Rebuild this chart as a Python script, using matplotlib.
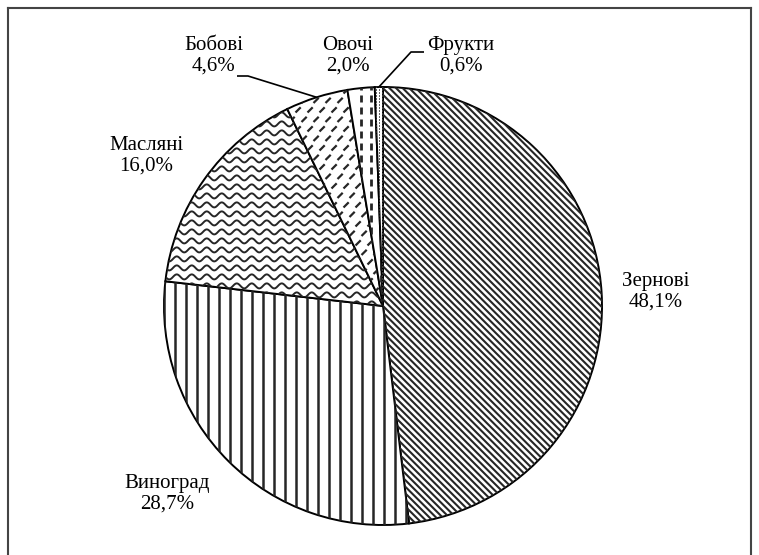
"""
Pie chart of crop structure with hand drawn hatch fills
"""
import numpy as np
import matplotlib
matplotlib.use('Agg')
import matplotlib.pyplot as plt
from matplotlib.collections import LineCollection
from matplotlib.lines import Line2D

labels = ['Зернові', 'Виноград', 'Масляні', 'Бобові', 'Овочі', 'Фрукти']
shares = [48.1, 28.7, 16.0, 4.6, 2.0, 0.6]
share_text = ['48,1%', '28,7%', '16,0%', '4,6%', '2,0%', '0,6%']

W, H = 759, 555
CX, CY, R = 383, 306, 219   # pie centre and radius in pixels

plt.rcParams['font.family'] = ['Liberation Serif', 'DejaVu Serif']

fig = plt.figure(figsize=(W / 100, H / 100), dpi=100)
ax = fig.add_axes([0, 0, 1, 1])


def px(x, y):
    """pixel position -> data position"""
    return (x - CX) / R, (CY - y) / R


wedges, _ = ax.pie(shares, startangle=90, counterclock=False, radius=1,
                   colors=['white'] * len(shares),
                   wedgeprops=dict(edgecolor='black', linewidth=1.4))
for w in wedges:
    w.set_zorder(1)

# pie() resets the view, so fix the limits afterwards
ax.set_aspect('auto')
ax.set_xlim(-CX / R, (W - CX) / R)
ax.set_ylim(-(H - CY) / R, CY / R)
ax.axis('off')

u = 1.0 / R  # one pixel in data units
ink = '#262626'


def add_lines(segs, wedge, lw, color=ink):
    lc = LineCollection(segs, colors=color, linewidths=lw, zorder=2)
    ax.add_collection(lc)
    lc.set_clip_path(wedge)


# Зернові: dense back-diagonal lines
segs = []
for c in np.arange(-2.2, 2.2, 6.6 * u):
    segs.append([(-1.1, c + 1.1), (1.1, c - 1.1)])
add_lines(segs, wedges[0], 1.5)

# Виноград: vertical lines
segs = [[(x, -1.1), (x, 1.1)] for x in np.arange(-1.1, 1.1, 11 * u)]
add_lines(segs, wedges[1], 1.8)

# Масляні: wavy lines
xs = np.linspace(-1.1, 1.1, 800)
segs = []
for y0 in np.arange(-1.1, 1.1, 9 * u):
    ys = y0 + 2.5 * u * np.sin(2 * np.pi * xs / (15 * u))
    segs.append(np.column_stack([xs, ys]))
add_lines(segs, wedges[2], 1.4)

# Бобові: short rising dashes
segs = []
d = 2.6 * u
for i, y0 in enumerate(np.arange(-1.1, 1.1, 9.5 * u)):
    off = (i % 2) * 6 * u
    for x0 in np.arange(-1.1, 1.1, 12 * u):
        segs.append([(x0 + off - d, y0 - d), (x0 + off + d, y0 + d)])
add_lines(segs, wedges[3], 1.6)

# Овочі: vertical dashed lines
segs = []
for x0 in np.arange(-0.1, 0.02, 10 * u):
    for y0 in np.arange(0.0, 1.1, 12 * u):
        segs.append([(x0, y0), (x0, y0 + 7 * u)])
add_lines(segs, wedges[4], 2.0)

# Фрукти: fine dots
segs = []
for x0 in np.arange(-0.06, 0.01, 3 * u):
    for y0 in np.arange(0.0, 1.1, 3 * u):
        segs.append([(x0, y0), (x0 + 1.2 * u, y0)])
add_lines(segs, wedges[5], 1.2, '#444444')

# labels (pixel positions of text centres)
label_pos = [(656, 292), (167, 494), (146, 156), (214, 56), (348, 56), (461, 56)]
for name, txt, (x, y) in zip(labels, share_text, label_pos):
    ax.text(*px(x, y), f'{name}\n{txt}', ha='center', va='center',
            fontsize=15, linespacing=1.1, zorder=3)


# leader lines for the small slices
def leader(points):
    pts = [px(*p) for p in points]
    ax.plot([p[0] for p in pts], [p[1] for p in pts], color='black',
            linewidth=1.2, zorder=3, solid_capstyle='butt')


def edge_point(k):
    mid = 90 - 3.6 * (sum(shares[:k]) + shares[k] / 2)
    a = np.radians(mid)
    return CX + R * np.cos(a), CY - R * np.sin(a)


leader([(237, 76), (248, 76), edge_point(3)])
leader([(424, 52), (411, 52), edge_point(5)])

# outer frame
fx = lambda x: x / W
fy = lambda y: 1 - y / H
frame = dict(color='#444444', linewidth=1.5, transform=fig.transFigure)
fig.add_artist(Line2D([fx(8), fx(8)], [fy(8), fy(560)], **frame))
fig.add_artist(Line2D([fx(8), fx(751)], [fy(8), fy(8)], **frame))
fig.add_artist(Line2D([fx(751), fx(751)], [fy(8), fy(560)], **frame))

fig.savefig('out.png', dpi=100)
